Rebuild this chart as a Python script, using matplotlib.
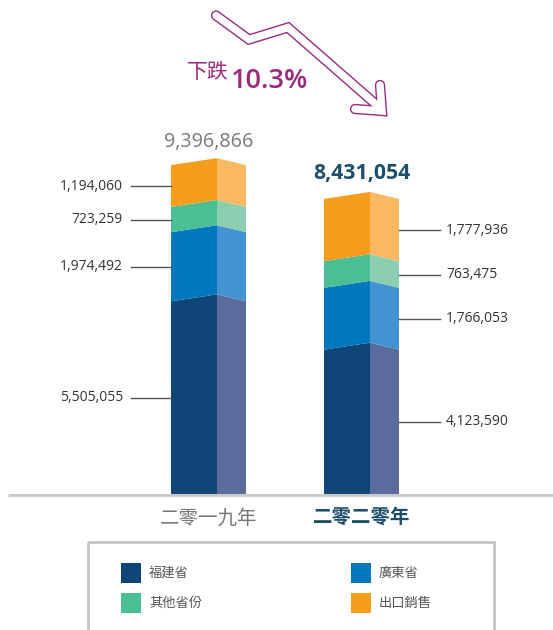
import matplotlib.pyplot as plt
from matplotlib.patches import Polygon, Rectangle

plt.rcParams['font.family'] = ['Open Sans', 'Noto Sans CJK TC', 'DejaVu Sans']

# data
years = ['二零一九年', '二零二零年']
regions = ['福建省', '廣東省', '其他省份', '出口銷售']
fujian = [5505055, 4123590]
guangdong = [1974492, 1766053]
others = [723259, 763475]
export = [1194060, 1777936]
totals = [9396866, 8431054]
change_label = '10.3%'

front_colors = ['#0f4577', '#0077bf', '#4bbf94', '#f79d1e']
side_colors = ['#5b6b9b', '#4193d2', '#8ccfb0', '#fbb862']
purple = '#9a2b7c'
teal = '#1d4f6b'

W, H = 553, 630
base_px = 494
px_per_unit = 35.0 / 1e6
peak = 7 / px_per_unit          # slant of the top edges
bar_left = [171, 324]
front_w, side_w = 46, 29

fig = plt.figure(figsize=(W / 100, H / 100), dpi=100)
ov = fig.add_axes([0, 0, 1, 1])
ov.set_xlim(0, W)
ov.set_ylim(H, 0)
ov.axis('off')

ax = fig.add_axes([0, (H - base_px) / H, 1, base_px / H])
ax.set_xlim(0, W)
ax.set_ylim(0, base_px / px_per_unit)
ax.axis('off')

series = [fujian, guangdong, others, export]
for i in range(len(years)):
    x0 = bar_left[i]
    xm = x0 + front_w
    x1 = xm + side_w
    lo = 0
    for s, vals in enumerate(series):
        hi = lo + vals[i]
        lo_pk = peak if lo > 0 else 0
        ax.add_patch(Polygon([(x0, lo), (xm, lo + lo_pk), (xm, hi + peak), (x0, hi)],
                             closed=True, facecolor=front_colors[s], edgecolor='none'))
        ax.add_patch(Polygon([(xm, lo + lo_pk), (x1, lo), (x1, hi), (xm, hi + peak)],
                             closed=True, facecolor=side_colors[s], edgecolor='none'))
        mid = (lo + hi) / 2
        if i == 0:
            ax.plot([131, x0], [mid, mid], color='#555555', lw=1)
            ax.text(123, mid, f'{vals[i]:,}', ha='right', va='center',
                    fontsize=10, color='#333333')
        else:
            ax.plot([x1, 440], [mid, mid], color='#555555', lw=1)
            ax.text(446, mid, f'{vals[i]:,}', ha='left', va='center',
                    fontsize=10, color='#333333')
        lo = hi

    xc = (x0 + x1) / 2
    if i == 0:
        ax.annotate(f'{totals[i]:,}', (xc, totals[i]), xytext=(0, 13),
                    textcoords='offset points', ha='center', va='baseline',
                    fontsize=14.2, color='#7a7a7a')
        ov.text(xc, 518, years[i], ha='center', va='center', fontsize=14,
                color='#777777')
    else:
        ax.annotate(f'{totals[i]:,}', (xc, totals[i]), xytext=(0, 14.5),
                    textcoords='offset points', ha='center', va='baseline',
                    fontsize=15.3, color=teal, fontweight='bold')
        ov.text(xc, 518, years[i], ha='center', va='center', fontsize=14,
                color=teal, fontweight='bold')

# baseline
ov.plot([8, W], [495, 495], color='#c8c8c8', lw=2, solid_capstyle='butt')

# falling arrow, drawn as an outlined stroke
shaft = [(216, 15.5), (249, 39.5), (288, 27.5), (379, 107)]
head = [(380, 85), (382, 111), (355, 109)]
for lines_w, col in [(7.4, purple), (5.4, 'white')]:
    for pts in (shaft, head):
        xs, ys = zip(*pts)
        ov.plot(xs, ys, color=col, lw=lines_w, solid_joinstyle='miter',
                solid_capstyle='round')

ov.text(208, 73, '下跌', ha='center', va='center', fontsize=15, color=purple)
ov.text(231, 88, change_label, ha='left', va='baseline', fontsize=19.5,
        color=purple, fontweight='semibold')

# legend
ov.add_patch(Rectangle((88, 542), 406, 100, facecolor='none',
                       edgecolor='#c4c4c4', lw=2))
leg_pos = [(121, 563), (351, 563), (121, 593), (351, 593)]
for (lx, ly), name, col in zip(leg_pos, regions, front_colors):
    ov.add_patch(Rectangle((lx, ly), 20, 20, facecolor=col, edgecolor='none'))
    ov.text(lx + 28, ly + 10, name, ha='left', va='center', fontsize=9.5,
            color='#555555')

fig.savefig('out.png', dpi=100)
